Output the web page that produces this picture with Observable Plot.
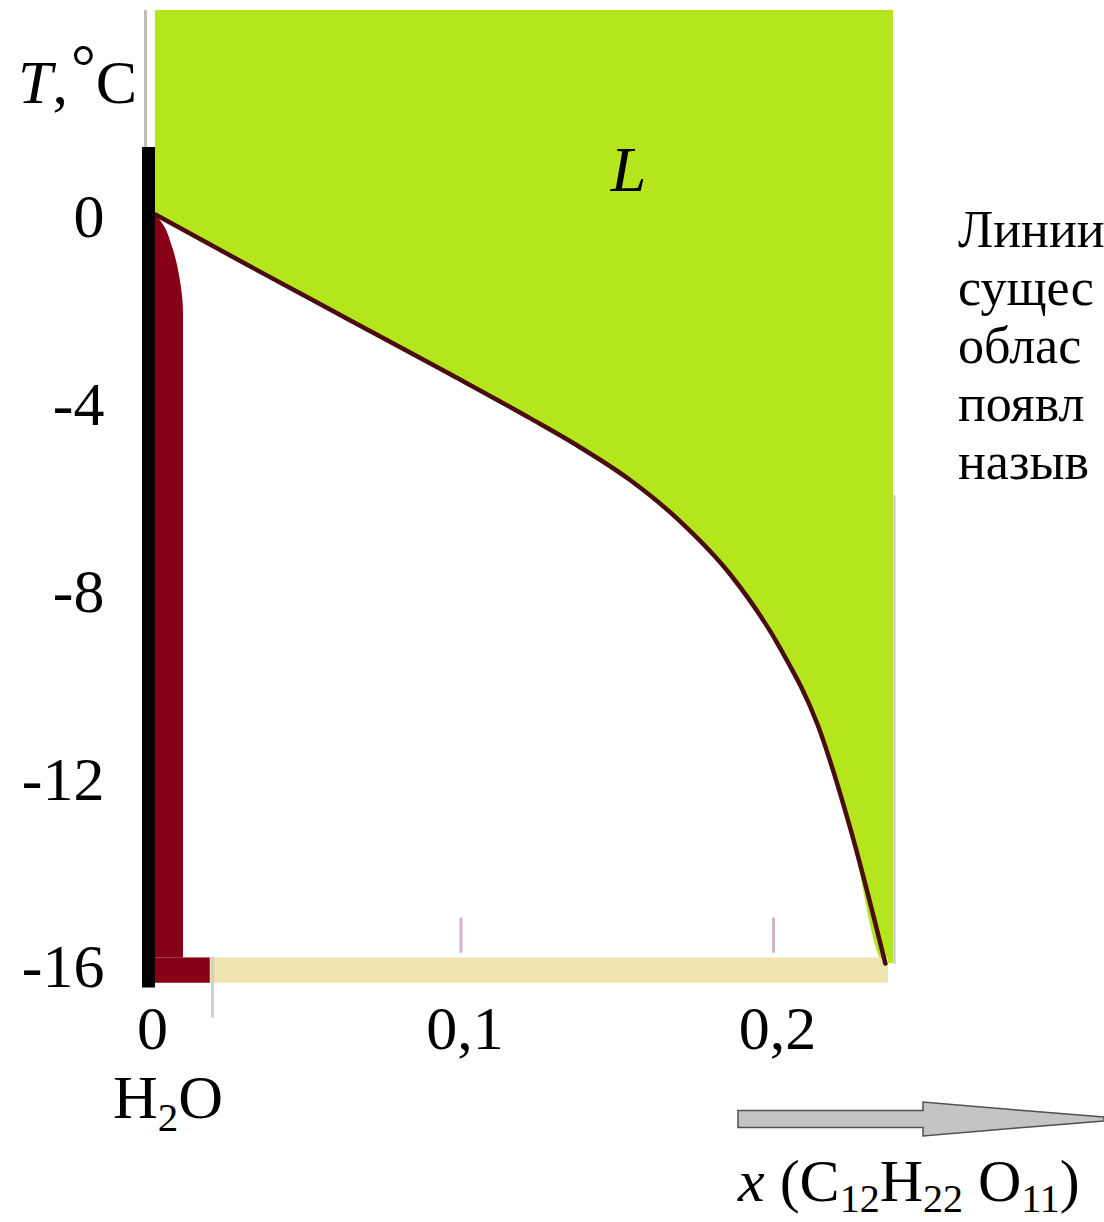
<!DOCTYPE html>
<html><head><meta charset="utf-8">
<script src="https://cdn.jsdelivr.net/npm/d3@7"></script>
<script src="https://cdn.jsdelivr.net/npm/@observablehq/plot@0.6"></script>
<style>
html,body{margin:0;padding:0;background:#fff;}
#chart{width:1104px;height:1222px;overflow:hidden;}
</style>
</head><body><div id="chart"></div>
<script>
// ---- data ----
const xTicks = [0, 0.1, 0.2];
const yTicks = [0, -4, -8, -12, -16];
const xTickLabels = ["0", "0,1", "0,2"];
const yTickLabels = ["0", "-4", "-8", "-12", "-16"];

// liquidus curve (boundary of L region), x = mole fraction of sucrose, T in °C
const liquidusX = [0.0022, 0.0326, 0.0646, 0.0966, 0.1222, 0.1382, 0.1542, 0.1702, 0.1862, 0.2022, 0.2141, 0.2246, 0.2358];
const liquidusT = [0, -1.11, -2.26, -3.41, -4.35, -4.97, -5.67, -6.55, -7.68, -9.26, -10.88, -13.10, -15.98];

// solid (ice) region boundary
const solidX = [0.0022, 0.0045, 0.0077, 0.0102, 0.0112, 0.0112];
const solidT = [0, -0.19, -0.70, -1.41, -2.11, -15.86];
const solidFootX = [0, 0.0198];
const solidFootT = [-15.86, -16.40];

// eutectic band
const eutecticX = [0.0198, 0.2368];
const eutecticT = [-15.86, -16.40];

// L region extent
const liquidTopT = 4.35;
const liquidRightX = 0.2384;

// pure water bar
const waterBarT = [1.43, -16.5];
const waterGuideT = [1.43, 4.35];

// small tick marks
const minorTickX = [0.1, 0.2];
const minorTickT = [-15.01, -15.76];
const footTickX = [0.0205];
const footTickT = [-15.84, -17.14];

const regionLabels = ["L"];
const regionLabelX = [0.1536];
const regionLabelT = [0.94];

const noteLines = ["Линии", "сущес", "облас", "появл", "назыв"];

// ---- build tables ----
const liquidus = liquidusX.map((x, i) => ({x, T: liquidusT[i]}));
const liquidArea = liquidus.concat([{x: liquidRightX, T: liquidusT[liquidusT.length - 1]}]);
const solid = solidX.map((x, i) => ({x, T: solidT[i]}));
const labels = regionLabels.map((t, i) => ({t, x: regionLabelX[i], T: regionLabelT[i]}));

const FONT = "'Liberation Serif', 'Times New Roman', serif";

const plot = Plot.plot({
  width: 1104,
  height: 1222,
  marginLeft: 148,
  marginRight: 18.5,
  marginTop: 214,
  marginBottom: 258,
  style: {fontFamily: FONT, fontSize: "62px", background: "white", color: "black", overflow: "hidden"},
  x: {domain: [0, 0.3]},
  y: {domain: [-16, 0]},
  marks: [
    Plot.areaY(liquidArea, {x: "x", y1: "T", y2: () => liquidTopT, fill: "#b5e61d", curve: "monotone-x"}),
    Plot.ruleX([liquidRightX], {y1: -16, y2: -6, stroke: "#c4c4c4", strokeWidth: 2, dx: 1}),
    Plot.areaX(solid, {y: "T", x1: () => 0, x2: "x", fill: "#880015", curve: "monotone-y"}),
    Plot.rect([0], {x1: () => solidFootX[0], x2: () => solidFootX[1], y1: () => solidFootT[0], y2: () => solidFootT[1], fill: "#880015"}),
    Plot.rect([0], {x1: () => eutecticX[0], x2: () => eutecticX[1], y1: () => eutecticT[0], y2: () => eutecticT[1], fill: "#efe4b0"}),
    Plot.ruleX(minorTickX, {y1: () => minorTickT[0], y2: () => minorTickT[1], stroke: "#d6b3cf", strokeWidth: 3}),
    Plot.ruleX(footTickX, {y1: () => footTickT[0], y2: () => footTickT[1], stroke: "#cfcfcf", strokeWidth: 3}),
    Plot.line(liquidus, {x: "x", y: "T", stroke: "#4a0d0d", strokeWidth: 4.5, curve: "monotone-x"}),
    Plot.ruleX([0], {y1: () => waterGuideT[0], y2: () => waterGuideT[1], stroke: "#bdbdbd", strokeWidth: 3, dx: -3}),
    Plot.ruleX([0], {y1: () => waterBarT[0], y2: () => waterBarT[1], stroke: "black", strokeWidth: 13}),
    Plot.text(labels, {x: "x", y: "T", text: "t", fontStyle: "italic", fontSize: 64, fill: "black"}),
    Plot.axisY({ticks: yTicks, tickSize: 0, tickPadding: 44, fontSize: 62, dy: 3,
      tickFormat: d => yTickLabels[yTicks.indexOf(d)], label: null}),
    Plot.axisX({ticks: xTicks, tickSize: 0, tickPadding: 40, fontSize: 62, dx: 4,
      tickFormat: d => xTickLabels[xTicks.indexOf(d)], label: null})
  ]
});

document.getElementById("chart").appendChild(plot);

// ---- annotations (rich text and arrow) ----
const svg = d3.select(plot);
const xs = plot.scale("x");

// axis title T, °C
const tt = svg.append("text").attr("x", 18).attr("y", 103).attr("text-anchor", "start")
  .attr("font-family", FONT).attr("font-size", 62).attr("fill", "black");
tt.append("tspan").attr("font-style", "italic").text("T");
tt.append("tspan").text(",");
tt.append("tspan").attr("dy", -16).attr("dx", 3).text("°");
tt.append("tspan").attr("dy", 16).text("C");

// H2O under zero
const h = svg.append("text").attr("x", xs.apply(0) + 20).attr("y", 1118)
  .attr("text-anchor", "middle").attr("font-family", FONT).attr("font-size", 62).attr("fill", "black");
h.append("tspan").text("H");
h.append("tspan").attr("font-size", 41).attr("dy", 13).text("2");
h.append("tspan").attr("dy", -13).text("O");

// arrow
const ax0 = xs.apply(0.1888);
const ay = 1119;
const arrowPts = [
  [ax0, ay - 8.5], [923, ay - 8.5], [923, ay - 17], [1017, ay - 9], [1067, ay - 5], [1104, ay - 2],
  [1104, ay + 2], [1067, ay + 5], [1017, ay + 9], [923, ay + 17], [923, ay + 8.5], [ax0, ay + 8.5]
];
svg.append("path").attr("d", "M" + arrowPts.map(p => p.join(",")).join("L") + "Z")
  .attr("fill", "#c4c4c4").attr("stroke", "#505050").attr("stroke-width", 1.5);

// x axis caption
const cap = svg.append("text").attr("x", ax0).attr("y", 1201).attr("text-anchor", "start")
  .attr("font-family", FONT).attr("font-size", 60).attr("fill", "black");
cap.append("tspan").attr("font-style", "italic").text("x");
cap.append("tspan").text(" (C");
cap.append("tspan").attr("font-size", 40).attr("dy", 11).text("12");
cap.append("tspan").attr("dy", -11).text("H");
cap.append("tspan").attr("font-size", 40).attr("dy", 11).text("22");
cap.append("tspan").attr("dy", -11).text(" O");
cap.append("tspan").attr("font-size", 40).attr("dy", 11).text("11");
cap.append("tspan").attr("dy", -11).text(")");

// side note (cut off at the right edge in the reference)
const note = svg.append("text").attr("x", 958).attr("y", 247).attr("text-anchor", "start")
  .attr("font-family", FONT).attr("font-size", 52).attr("fill", "black");
noteLines.forEach((line, i) => {
  note.append("tspan").attr("x", 958).attr("dy", i === 0 ? 0 : 58).text(line);
});
</script>
</body></html>
